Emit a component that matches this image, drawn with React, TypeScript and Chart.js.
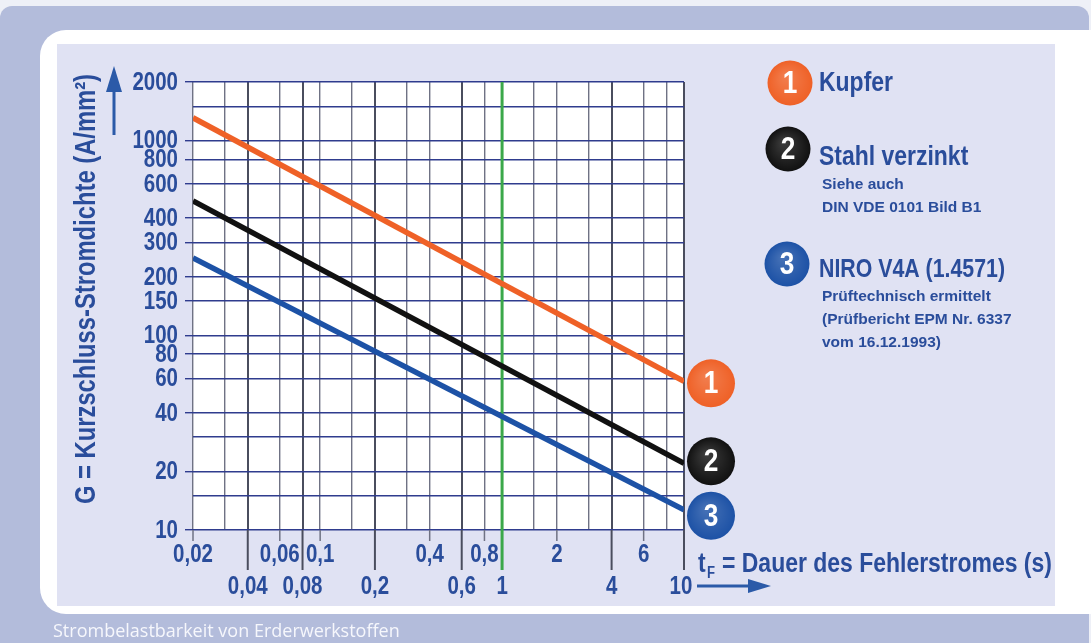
import React, { useEffect, useRef } from 'react';
import { Chart, registerables } from 'chart.js';

Chart.register(...registerables);

// ---- data ----
const T_POINTS = [0.02, 10];
const KUPFER = [1310, 58];
const STAHL = [490, 22];
const NIRO = [250, 12.7];

const GRID_X = [0.02, 0.03, 0.04, 0.06, 0.08, 0.1, 0.15, 0.2, 0.3, 0.4, 0.6, 0.8, 1, 1.5, 2, 3, 4, 6, 8, 10];
const X_LABELS_TOP = [0.02, 0.06, 0.1, 0.4, 0.8, 2, 6];
const X_LABELS_BOTTOM = [0.04, 0.08, 0.2, 0.6, 1, 4, 10];
const GRID_Y = [10, 15, 20, 30, 40, 60, 80, 100, 150, 200, 300, 400, 600, 800, 1000, 1500, 2000];
const Y_LABELS = [10, 20, 40, 60, 80, 100, 150, 200, 300, 400, 600, 800, 1000, 2000];
const MARK_T = 1;

const SERIES_NAMES = ['Kupfer', 'Stahl verzinkt', 'NIRO V4A (1.4571)'];
const SERIES_NOTES = [[], ['Siehe auch', 'DIN VDE 0101 Bild B1'], ['Prüftechnisch ermittelt', '(Prüfbericht EPM Nr. 6337', 'vom 16.12.1993)']];
const SERIES_COLORS = ['#ef6127', '#111111', '#1d52a6'];
const Y_TITLE = 'G = Kurzschluss-Stromdichte (A/mm²)';
const X_TITLE_T = 't';
const X_TITLE_SUB = 'F';
const X_TITLE_REST = '= Dauer des Fehlerstromes (s)';
const CAPTION = 'Strombelastbarkeit von Erderwerkstoffen';

// ---- styles ----
const BLUE_TEXT = '#2a4d9b';
const ARIAL = "'Liberation Sans', Arial, sans-serif";
const NARROW_X = 0.82; // horizontal squeeze to imitate a narrow bold face
const GREEN = '#3ba84a';
const H_GRID = '#2f3c8e';
const V_GRID = '#6f7284';
const V_GRID_DARK = '#4a4d5e';

const fmt = (v: number) => String(v).replace('.', ',');

const narrowText = (
  ctx: CanvasRenderingContext2D,
  text: string,
  x: number,
  y: number,
  size: number,
  align: CanvasTextAlign,
  baseline: CanvasTextBaseline,
  color: string,
) => {
  ctx.save();
  ctx.translate(x, y);
  ctx.scale(NARROW_X, 1);
  ctx.font = `bold ${size}px ${ARIAL}`;
  ctx.textAlign = align;
  ctx.textBaseline = baseline;
  ctx.fillStyle = color;
  ctx.fillText(text, 0, 0);
  ctx.restore();
};

const circle = (ctx: CanvasRenderingContext2D, x: number, y: number, r: number, color: string, digit: string, size: number) => {
  ctx.beginPath();
  ctx.arc(x, y, r, 0, Math.PI * 2);
  ctx.fillStyle = color;
  ctx.fill();
  const g = ctx.createRadialGradient(x - r * 0.2, y - r * 0.3, 1, x, y, r);
  g.addColorStop(0, 'rgba(255,255,255,0.18)');
  g.addColorStop(1, 'rgba(255,255,255,0)');
  ctx.fillStyle = g;
  ctx.fill();
  narrowText(ctx, digit, x, y + 1, size, 'center', 'middle', '#ffffff');
};

const decor = {
  id: 'decor',
  beforeDraw(chart: any) {
    const { ctx, chartArea: a } = chart;
    ctx.save();
    ctx.fillStyle = '#eef0f7';
    ctx.fillRect(0, 0, 1091, 643);
    ctx.fillStyle = '#b3bcdb';
    ctx.beginPath();
    ctx.roundRect(0, 6, 1089, 660, [12, 12, 0, 0]);
    ctx.fill();
    ctx.fillStyle = '#ffffff';
    ctx.beginPath();
    ctx.roundRect(40, 30, 1100, 584, [26, 0, 0, 26]);
    ctx.fill();
    ctx.fillStyle = '#e0e2f3';
    ctx.fillRect(57, 44, 998, 562);
    ctx.fillStyle = '#ffffff';
    ctx.fillRect(a.left, a.top, a.right - a.left, a.bottom - a.top);
    ctx.restore();
  },
  afterDraw(chart: any) {
    const { ctx, chartArea: a } = chart;
    const xs = chart.scales.x;
    const ys = chart.scales.y;
    ctx.save();

    // x tick marks + labels (two rows)
    X_LABELS_TOP.forEach((v) => {
      const px = xs.getPixelForValue(v);
      ctx.strokeStyle = V_GRID;
      ctx.lineWidth = 1.5;
      ctx.beginPath();
      ctx.moveTo(px, a.bottom);
      ctx.lineTo(px, a.bottom + 11);
      ctx.stroke();
      narrowText(ctx, fmt(v), px, a.bottom + 25, 25, 'center', 'middle', BLUE_TEXT);
    });
    X_LABELS_BOTTOM.forEach((v) => {
      const px = xs.getPixelForValue(v);
      ctx.strokeStyle = v === MARK_T ? GREEN : V_GRID_DARK;
      ctx.lineWidth = v === MARK_T ? 3 : 2;
      ctx.beginPath();
      ctx.moveTo(px, a.bottom);
      ctx.lineTo(px, a.bottom + 40);
      ctx.stroke();
      narrowText(ctx, fmt(v), px - (v === X_LABELS_BOTTOM[X_LABELS_BOTTOM.length - 1] ? 3 : 0), a.bottom + 57, 25, 'center', 'middle', BLUE_TEXT);
    });

    // y labels
    Y_LABELS.forEach((v) => {
      const py = ys.getPixelForValue(v);
      narrowText(ctx, String(v), a.left - 15, py + 1, 25, 'right', 'middle', BLUE_TEXT);
    });

    // y title
    ctx.save();
    ctx.translate(87, 289);
    ctx.rotate(-Math.PI / 2);
    narrowText(ctx, Y_TITLE, 0, 0, 29, 'center', 'middle', BLUE_TEXT);
    ctx.restore();

    // up arrow
    ctx.strokeStyle = '#2b5aa8';
    ctx.fillStyle = '#2b5aa8';
    ctx.lineWidth = 3;
    ctx.beginPath();
    ctx.moveTo(114, 135);
    ctx.lineTo(114, 88);
    ctx.stroke();
    ctx.beginPath();
    ctx.moveTo(106, 92);
    ctx.lineTo(122, 92);
    ctx.lineTo(114, 66);
    ctx.closePath();
    ctx.fill();

    // x title
    narrowText(ctx, X_TITLE_T, 698, 572, 28, 'left', 'alphabetic', BLUE_TEXT);
    narrowText(ctx, X_TITLE_SUB, 707, 578, 16, 'left', 'alphabetic', BLUE_TEXT);
    narrowText(ctx, X_TITLE_REST, 722, 572, 28, 'left', 'alphabetic', BLUE_TEXT);

    // right arrow
    ctx.strokeStyle = '#2b5aa8';
    ctx.fillStyle = '#2b5aa8';
    ctx.lineWidth = 3;
    ctx.beginPath();
    ctx.moveTo(697, 586);
    ctx.lineTo(752, 586);
    ctx.stroke();
    ctx.beginPath();
    ctx.moveTo(748, 579);
    ctx.lineTo(771, 586);
    ctx.lineTo(748, 593);
    ctx.closePath();
    ctx.fill();

    // end markers
    const MARKER_DY = [2, -2, 6];
    [0, 1, 2].forEach((i) => {
      const meta = chart.getDatasetMeta(i);
      const pt = meta.data[meta.data.length - 1];
      circle(ctx, pt.x + 27, pt.y + MARKER_DY[i], 24, SERIES_COLORS[i], String(i + 1), 32);
    });

    // legend
    const LEG = [
      { cx: 790, cy: 83, ty: 91, size: 28 },
      { cx: 788, cy: 149, ty: 165, size: 28 },
      { cx: 787, cy: 264, ty: 277, size: 26 },
    ];
    LEG.forEach((l, i) => {
      circle(ctx, l.cx, l.cy, 22.5, SERIES_COLORS[i], String(i + 1), 32);
      narrowText(ctx, SERIES_NAMES[i], 819, l.ty, l.size, 'left', 'alphabetic', BLUE_TEXT);
      ctx.fillStyle = BLUE_TEXT;
      ctx.textAlign = 'left';
      ctx.textBaseline = 'alphabetic';
      ctx.font = `bold 15.5px ${ARIAL}`;
      SERIES_NOTES[i].forEach((n, j) => {
        ctx.fillText(n, 822, l.ty + 24 + j * 23);
      });
    });

    // caption
    ctx.fillStyle = '#f6f7fc';
    ctx.font = `18px 'Open Sans', sans-serif`;
    ctx.textAlign = 'left';
    ctx.textBaseline = 'alphabetic';
    ctx.fillText(CAPTION, 53, 637);

    ctx.restore();
  },
};

export default function App() {
  const ref = useRef<HTMLCanvasElement>(null);
  useEffect(() => {
    const mk = (vals: number[]) => T_POINTS.map((t, i) => ({ x: t, y: vals[i] }));
    const chart = new Chart(ref.current as HTMLCanvasElement, {
      type: 'line',
      data: {
        datasets: [
          { label: SERIES_NAMES[0], data: mk(KUPFER), borderColor: SERIES_COLORS[0], borderWidth: 5.5, pointRadius: 0, order: 1 },
          { label: SERIES_NAMES[1], data: mk(STAHL), borderColor: SERIES_COLORS[1], borderWidth: 5.5, pointRadius: 0, order: 1 },
          { label: SERIES_NAMES[2], data: mk(NIRO), borderColor: SERIES_COLORS[2], borderWidth: 5.5, pointRadius: 0, order: 1 },
          {
            label: 't=1',
            data: [{ x: MARK_T, y: GRID_Y[0] }, { x: MARK_T, y: GRID_Y[GRID_Y.length - 1] }],
            borderColor: GREEN,
            borderWidth: 3,
            pointRadius: 0,
            order: 5,
          },
        ],
      },
      options: {
        responsive: false,
        animation: false,
        layout: { padding: { left: 0, top: 82, right: 407, bottom: 0 } },
        plugins: { legend: { display: false }, tooltip: { enabled: false } },
        scales: {
          x: {
            type: 'logarithmic',
            min: GRID_X[0],
            max: GRID_X[GRID_X.length - 1],
            afterBuildTicks: (s: any) => {
              s.ticks = GRID_X.map((v) => ({ value: v }));
            },
            afterFit: (s: any) => {
              s.height = 113;
            },
            border: { display: false },
            grid: {
              drawTicks: false,
              color: (c: any) => (X_LABELS_BOTTOM.includes(c.tick?.value) ? V_GRID_DARK : V_GRID),
              lineWidth: (c: any) => (X_LABELS_BOTTOM.includes(c.tick?.value) ? 2 : 1.4),
            },
            ticks: { display: false, autoSkip: false },
          },
          y: {
            type: 'logarithmic',
            min: GRID_Y[0],
            max: GRID_Y[GRID_Y.length - 1],
            afterBuildTicks: (s: any) => {
              s.ticks = GRID_Y.map((v) => ({ value: v }));
            },
            afterFit: (s: any) => {
              s.width = 193;
            },
            border: { display: false },
            grid: {
              color: H_GRID,
              lineWidth: 1.4,
              tickLength: 8,
              tickColor: (c: any) => (Y_LABELS.includes(c.tick?.value) ? H_GRID : 'rgba(0,0,0,0)'),
            },
            ticks: { display: false, autoSkip: false },
          },
        },
      },
      plugins: [decor],
    } as any);
    return () => chart.destroy();
  }, []);
  return (
    <canvas
      ref={ref}
      width={1091}
      height={643}
      style={{ position: 'absolute', left: 0, top: 0, width: 1091, height: 643 }}
    />
  );
}
